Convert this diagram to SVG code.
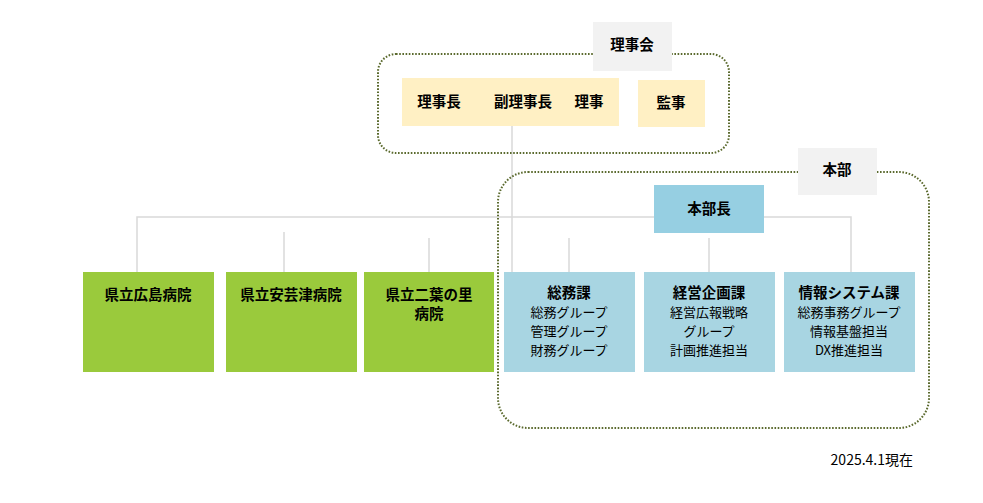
<svg xmlns="http://www.w3.org/2000/svg" width="983" height="503" viewBox="0 0 983 503">
<style>
text{font-family:"Noto Sans CJK JP","Noto Sans",sans-serif;fill:#000;text-anchor:middle}
.b{font-weight:bold;font-size:14.5px}
.n{font-size:13px}
.con{fill:none;stroke:#d9d9d9;stroke-width:1.5}
.grp{fill:none;stroke:#5b6a2e;stroke-width:2;stroke-dasharray:1.6 1.6}
.lbl{fill:#f2f2f2}
.hosp{fill:#9aca3c}
.sec{fill:#a8d5e2}
.yel{fill:#fff0c4}
</style>
<rect width="983" height="503" fill="#fff"/>
<g id="connectors">
<path class="con" d="M97,273 H137 V217 H851 V272"/>
<path class="con" d="M512,126 V272"/>
<path class="con" d="M284,232 V272"/>
<path class="con" d="M429,238 V272"/>
<path class="con" d="M569,238 V272"/>
<path class="con" d="M709,238 V272"/>
</g>
<g id="rijikai">
<rect class="grp" x="378" y="54" width="351" height="99" rx="18"/>
<rect class="lbl" x="593" y="22" width="79" height="49"/>
<text class="b" x="632" y="50">理事会</text>
</g>
<g id="riji">
<rect class="yel" x="402" y="78" width="217" height="48"/>
<text class="b" x="439" y="107">理事長</text>
<text class="b" x="523" y="107">副理事長</text>
<text class="b" x="589" y="107">理事</text>
</g>
<g id="kanji">
<rect class="yel" x="638" y="80" width="67" height="47"/>
<text class="b" x="671" y="108">監事</text>
</g>
<g id="honbu">
<rect class="grp" x="498" y="172" width="431" height="256" rx="30"/>
<rect class="lbl" x="798" y="148" width="79" height="47"/>
<text class="b" x="837" y="175">本部</text>
</g>
<g id="honbucho">
<rect fill="#96cfe2" x="654" y="185" width="110" height="48"/>
<text class="b" x="709" y="214">本部長</text>
</g>
<g id="hiroshima">
<rect class="hosp" x="83" y="272" width="131" height="100"/>
<text class="b" x="148" y="300">県立広島病院</text>
</g>
<g id="aki">
<rect class="hosp" x="226" y="272" width="131" height="100"/>
<text class="b" x="291" y="300">県立安芸津病院</text>
</g>
<g id="futaba">
<rect class="hosp" x="364" y="272" width="130" height="100"/>
<text class="b" x="429" y="300">県立二葉の里</text>
<text class="b" x="429" y="319">病院</text>
</g>
<g id="somuka">
<rect class="sec" x="504" y="272" width="131" height="100"/>
<text class="b" x="569" y="298">総務課</text>
<text class="n" x="569" y="317">総務グループ</text>
<text class="n" x="569" y="336">管理グループ</text>
<text class="n" x="569" y="355">財務グループ</text>
</g>
<g id="keiei">
<rect class="sec" x="644" y="272" width="131" height="100"/>
<text class="b" x="709" y="298">経営企画課</text>
<text class="n" x="709" y="317">経営広報戦略</text>
<text class="n" x="709" y="336">グループ</text>
<text class="n" x="709" y="355">計画推進担当</text>
</g>
<g id="joho">
<rect class="sec" x="784" y="272" width="131" height="100"/>
<text class="b" x="849" y="298">情報システム課</text>
<text class="n" x="849" y="317">総務事務グループ</text>
<text class="n" x="849" y="336">情報基盤担当</text>
<text class="n" x="849" y="355">DX推進担当</text>
</g>
<text class="n" x="913" y="465" style="text-anchor:end;font-size:14px">2025.4.1現在</text>
</svg>
